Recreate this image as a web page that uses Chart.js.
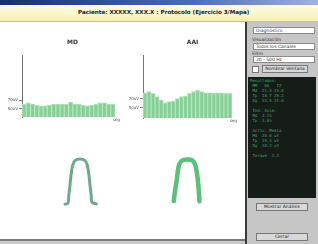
<!DOCTYPE html>
<html>
<head>
<meta charset="utf-8">
<script src="https://cdn.jsdelivr.net/npm/chart.js@4.4.1/dist/chart.umd.min.js"></script>
<style>
  body { margin:0; width:318px; height:244px; overflow:hidden; background:#c9c9c9; font-family:"DejaVu Sans", sans-serif; }
  .abs { position:absolute; }
  #titlebar { left:0; top:0; width:318px; height:5px; background:linear-gradient(90deg,#14306e,#4a6bb8 60%,#9fb4da); }
  #header { left:0; top:5px; width:318px; height:16px; background:linear-gradient(#fffde6,#f6efb4); border-bottom:1px solid #c9c08a; }
  #header span { position:absolute; left:78px; top:4px; font:bold 5.6px "DejaVu Sans"; color:#222; white-space:nowrap; }
  #main { left:0; top:22px; width:245px; height:217px; background:#fff; border-bottom:2px solid #7a7a7a; }
  #side { left:245px; top:22px; width:73px; height:222px; background:#c6c6c6; border-left:2px solid #3a3a3a; }
  .box { background:#fff; border:1px solid #8a8a8a; font:4.5px "DejaVu Sans"; color:#333; padding-left:2px; line-height:5px; }
  .lbl { font:4.5px "DejaVu Sans"; color:#333; }
  .btn { background:#d8d8d8; border:1px solid #777; font:4.5px "DejaVu Sans"; color:#222; text-align:center; line-height:6px; }
  #dark { left:248px; top:77px; width:68px; height:121px; background:#161d19; color:#4a9e66; font:4px "DejaVu Sans Mono", monospace; line-height:5px; padding:1px 2px; box-sizing:border-box; white-space:pre; }
  .unit { font:4px "DejaVu Sans"; color:#555; }
</style>
</head>
<body>
<div id="titlebar" class="abs"></div>
<div id="header" class="abs"><span>Paciente: XXXXX, XXX.X : Protocolo (Ejercicio 3/Mapa)</span></div>
<div id="main" class="abs"></div>
<div id="side" class="abs"></div>

<div class="abs box" style="left:253px;top:27px;width:58px;height:5px;color:#1c3f9e;">Diagnóstico</div>
<div class="abs lbl" style="left:252px;top:37px;">Visualización</div>
<div class="abs box" style="left:253px;top:43px;width:58px;height:5px;">Todos los Canales</div>
<div class="abs lbl" style="left:252px;top:51px;">Filtro</div>
<div class="abs box" style="left:253px;top:56px;width:58px;height:5px;">20 - 500 Hz</div>
<div class="abs" style="left:252px;top:66px;width:5px;height:5px;background:#fff;border:1px solid #777;"></div>
<div class="abs btn" style="left:262px;top:65px;width:44px;height:6px;">Nombrar Ventana</div>
<div class="abs" id="dark">Resultados:
 MM   DA   IZ
 Md  21.4 19.8
 Tp  18.7 20.2
 Dg  33.5 31.0

 Índ. Asim.
 Md  4.1%
 Tp  3.8%

 Activ. Media
 Md  20.6 uV
 Tp  19.4 uV
 Dg  38.2 uV

 Torque  2.3
</div>
<div class="abs btn" style="left:256px;top:203px;width:50px;height:6px;">Mostrar Análisis</div>
<div class="abs btn" style="left:256px;top:233px;width:50px;height:6px;">Cerrar</div>

<canvas id="c1" class="abs" style="left:0;top:30px;" width="125" height="92"></canvas>
<canvas id="c2" class="abs" style="left:121px;top:30px;" width="121" height="93"></canvas>
<div class="abs unit" style="left:113px;top:117px;">seg</div>
<div class="abs unit" style="left:230px;top:118px;">seg</div>

<canvas id="a1" class="abs" style="left:50px;top:153px;" width="60" height="60"></canvas>
<canvas id="a2" class="abs" style="left:157px;top:152px;" width="60" height="60"></canvas>

<script>
const segmentos = ['1','2','3','4','5','6','7','8','9','10','11','12','13','14','15','16','17','18','19','20','21','22']
const valoresMD = [21,23,21,19,18,18,19,21,21,21,21,24,21,21,19,18,19,21,23,23,21,21]
const valoresAAI = [40,42,39,34,29,24,26,27,31,34,35,39,42,44,42,40,40,39,40,40,39,39]
const ticksMD = [13, 27]
const ticksAAI = [16, 31]
const etiquetasMD = ['50uV', '70uV']
const etiquetasAAI = ['50uV', '70uV']

const arcoIzq = [
  {x:-7.5,y:-0.6},{x:-6,y:0},{x:-5.6,y:4},{x:-5.1,y:8},{x:-4.7,y:12},{x:-4.2,y:16},
  {x:-3.6,y:19},{x:-2.5,y:21.2},{x:0,y:22},{x:2.5,y:21.2},{x:3.6,y:19},{x:4.2,y:16},
  {x:4.7,y:12},{x:5.1,y:8},{x:5.6,y:4},{x:6,y:0.4},{x:8.2,y:-0.5}
]
const arcoDer = [
  {x:-6.6,y:0.5},{x:-6.2,y:4},{x:-5.6,y:8},{x:-5,y:12},{x:-4.5,y:16},{x:-3.8,y:19},
  {x:-2.5,y:20.7},{x:0,y:21.2},{x:2.5,y:20.9},{x:3.9,y:19.2},{x:4.7,y:16},{x:5.3,y:12},
  {x:5.7,y:8},{x:6,y:4},{x:6.2,y:0.3}
]

// title drawn over the middle of the bars, not the middle of the canvas
const tituloArriba = {
  id: 'tituloArriba',
  afterDraw(chart, args, opts) {
    const {ctx, chartArea} = chart
    ctx.save()
    ctx.font = 'bold 6px "DejaVu Sans"'
    ctx.fillStyle = '#333'
    ctx.textAlign = 'center'
    ctx.fillText(opts.text, (chartArea.left + chartArea.right) / 2 + opts.dx, chartArea.top - 11)
    ctx.restore()
  }
}

const barras = (id, titulo, valores, ticks, etiquetas, dx) => {
  return new Chart(document.getElementById(id), {
    type: 'bar',
    data: {
      labels: segmentos,
      datasets: [{
        data: valores,
        backgroundColor: '#86cf96',
        borderColor: '#b4e3bd',
        borderWidth: 1,
        categoryPercentage: 1,
        barPercentage: 1
      }]
    },
    options: {
      responsive: false,
      animation: false,
      layout: { padding: { top: 25, right: 10, bottom: 5 } },
      plugins: {
        legend: { display: false },
        tooltip: { enabled: false },
        tituloArriba: { text: titulo, dx: dx }
      },
      scales: {
        x: { display: false },
        y: {
          min: 0, max: 100,
          afterBuildTicks: s => { s.ticks = ticks.map(v => ({ value: v })) },
          afterFit: s => { s.width = 22 },
          ticks: {
            color: '#555', font: { size: 4, family: 'DejaVu Sans' }, padding: 1,
            callback: (v, i) => etiquetas[i]
          },
          grid: { drawOnChartArea: false, tickLength: 3, color: '#888' },
          border: { color: '#777', width: 1 }
        }
      }
    },
    plugins: [tituloArriba]
  })
}

barras('c1', 'MD', valoresMD, ticksMD, etiquetasMD, 4)
barras('c2', 'AAI', valoresAAI, ticksAAI, etiquetasAAI, 5)

const arco = (id, puntos, color, grosor) => {
  return new Chart(document.getElementById(id), {
    type: 'scatter',
    data: {
      datasets: [{
        data: puntos,
        showLine: true,
        borderColor: color,
        borderWidth: grosor,
        pointRadius: 0,
        tension: 0.4,
        borderCapStyle: 'round'
      }]
    },
    options: {
      responsive: false,
      animation: false,
      layout: { padding: 0 },
      plugins: { legend: { display: false }, tooltip: { enabled: false } },
      scales: {
        x: { display: false, min: -15, max: 15 },
        y: { display: false, min: -5, max: 25 }
      }
    }
  })
}

arco('a1', arcoIzq, '#6fa88a', 3)
arco('a2', arcoDer, '#5cbf7a', 4.5)
</script>
</body>
</html>
